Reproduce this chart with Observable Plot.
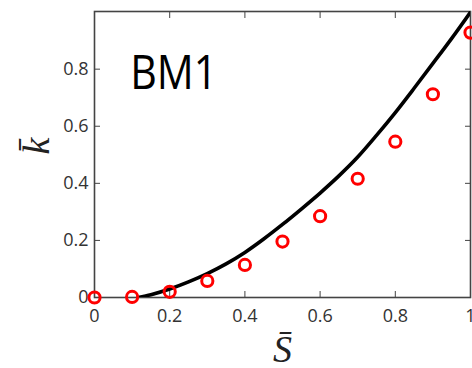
<!DOCTYPE html>
<html>
<head>
<meta charset="utf-8">
<script src="https://cdn.jsdelivr.net/npm/d3@7"></script>
<script src="https://cdn.jsdelivr.net/npm/@observablehq/plot@0.6"></script>
<style>
  html, body { margin: 0; padding: 0; background: #fff; overflow: hidden; }
  #chart svg { overflow: visible; }
</style>
</head>
<body>
<div id="chart"></div>
<script>
// Measured points (red circles)
const sObs = [0, 0.1, 0.2, 0.3, 0.4, 0.5, 0.6, 0.7, 0.8, 0.9, 1.0];
const kObs = [0, 0.002, 0.02, 0.058, 0.114, 0.196, 0.285, 0.416, 0.546, 0.712, 0.928];

// Model curve (black line)
const sFit = [0.116, 0.15, 0.2, 0.25, 0.3, 0.35, 0.4, 0.45, 0.5, 0.55, 0.6, 0.65, 0.7, 0.75, 0.8, 0.85, 0.9, 0.95, 1.0];
const kFit = [0, 0.010, 0.030, 0.055, 0.084, 0.118, 0.158, 0.205, 0.256, 0.310, 0.366, 0.426, 0.492, 0.568, 0.648, 0.733, 0.820, 0.908, 1.0];

const xTicks = [0, 0.2, 0.4, 0.6, 0.8, 1];
const yTicks = [0, 0.2, 0.4, 0.6, 0.8];
const panelLabel = "BM1";
const xLabel = "S\u0304";
const yLabel = "k\u0304";

const observed = sObs.map((s, i) => ({s, k: kObs[i]}));
const fitted = sFit.map((s, i) => ({s, k: kFit[i]}));

const axisColor = "#444";
const tickFont = "'Open Sans', sans-serif";
const mathFont = "'Liberation Serif', serif";
const fmt = d => String(d);

const chart = Plot.plot({
  width: 472,
  height: 368,
  marginLeft: 94,
  marginRight: 2,
  marginTop: 11,
  marginBottom: 71,
  style: {background: "#fff", overflow: "visible"},
  x: {domain: [0, 1]},
  y: {domain: [0, 1.002]},
  marks: [
    Plot.frame({stroke: axisColor, strokeWidth: 1.6}),
    Plot.axisX({ticks: xTicks, tickFormat: fmt, tickSize: -6, tickPadding: 18, stroke: axisColor,
      fontSize: 18, fontFamily: tickFont, color: "#333", label: null}),
    Plot.axisX({anchor: "top", ticks: xTicks, tickFormat: () => "", tickSize: -6, stroke: axisColor, label: null}),
    Plot.axisY({ticks: yTicks, tickFormat: fmt, tickSize: -6, tickPadding: 12, stroke: axisColor,
      fontSize: 18, fontFamily: tickFont, color: "#333", label: null}),
    Plot.axisY({anchor: "right", ticks: yTicks, tickFormat: () => "", tickSize: -6, stroke: axisColor, label: null}),
    Plot.line(fitted, {x: "s", y: "k", stroke: "#000", strokeWidth: 3.6, curve: "monotone-x", clip: true}),
    Plot.dot(observed, {x: "s", y: "k", r: 5.6, stroke: "#ff0000", strokeWidth: 3, fill: "none"}),
    Plot.text([panelLabel], {x: 0.095, y: 0.732, text: d => d, textAnchor: "start", lineAnchor: "bottom",
      fontSize: 48, fontFamily: "'Open Sans', sans-serif", fill: "#000"}),
    Plot.text([yLabel], {frameAnchor: "left", dx: -58, rotate: -90, text: d => d, fontSize: 38,
      fontStyle: "italic", fontFamily: mathFont, fill: "#222"}),
    Plot.text([xLabel], {frameAnchor: "bottom", dy: 64, lineAnchor: "bottom", text: d => d, fontSize: 38,
      fontStyle: "italic", fontFamily: mathFont, fill: "#222"})
  ]
});

// Fit the panel label to its drawn width
d3.select(chart).selectAll("text")
  .filter(function() { return this.textContent === panelLabel; })
  .attr("textLength", 87)
  .attr("lengthAdjust", "spacingAndGlyphs");

document.getElementById("chart").appendChild(chart);
</script>
</body>
</html>
